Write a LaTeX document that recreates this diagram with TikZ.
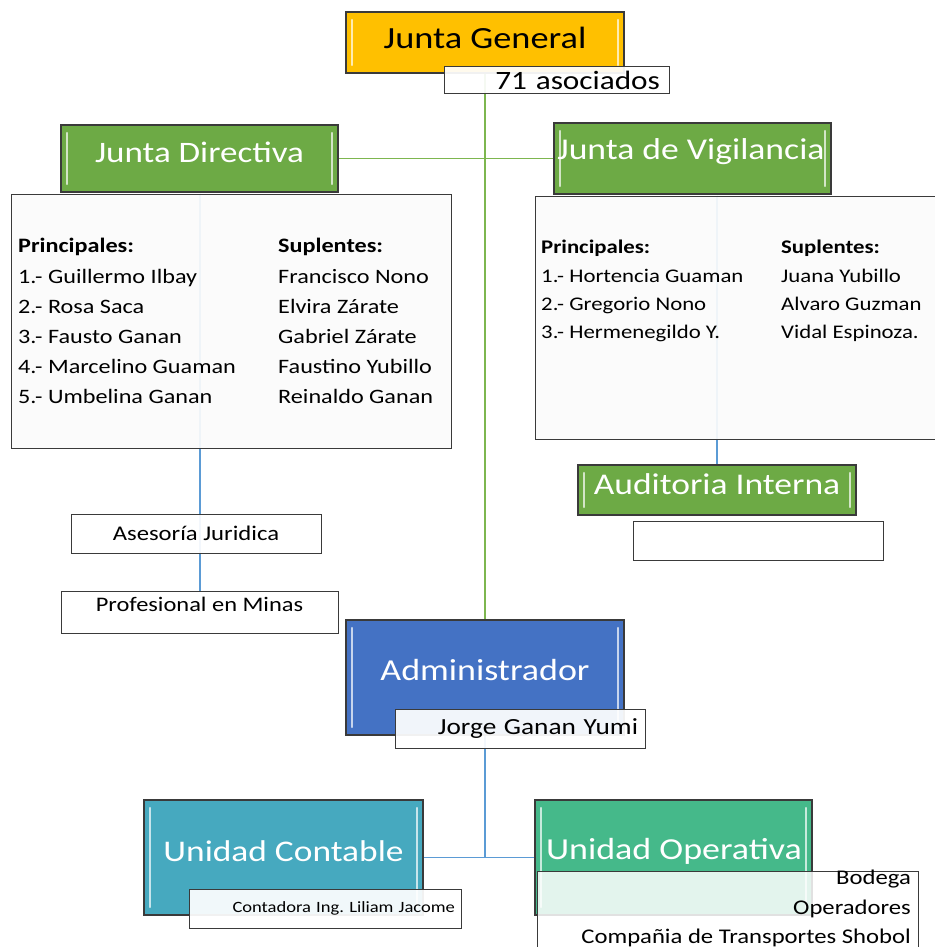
\documentclass[tikz,border=0pt]{standalone}
\usepackage{fontspec}
\setmainfont{Carlito}[FakeStretch=1.18]
\usetikzlibrary{backgrounds}

\definecolor{jgorange}{HTML}{FFC000}
\definecolor{vgreen}{HTML}{6DAA45}
\definecolor{admblue}{HTML}{4472C4}
\definecolor{ucteal}{HTML}{46A9BF}
\definecolor{uogreen}{HTML}{45B98A}
\definecolor{linegreen}{HTML}{7DB64F}
\definecolor{lineblue}{HTML}{5B9BD5}
\definecolor{edgegray}{HTML}{3A3A3A}

\newcommand{\fsz}[1]{\fontsize{#1}{#1}\selectfont}

\tikzset{
  % coloured unit box with light bevel strips on both sides
  unitbox/.style={draw=edgegray, line width=1.2pt, fill=#1, inner sep=0pt,
    path picture={
      \foreach \s/\a/\b in {1/north west/south west,-1/north east/south east}{
        \draw[#1!30!white, line width=2.4pt, line cap=round]
          ([xshift=\s*6pt,yshift=-8pt]path picture bounding box.\a) --
          ([xshift=\s*6pt,yshift=8pt]path picture bounding box.\b);}}},
  unittext/.style={inner sep=0pt, text=white, font=\fsz{#1}},
  infobox/.style={draw=edgegray, line width=1pt, fill=white, fill opacity=0.93,
    text opacity=1, inner sep=0pt},
  listbox/.style={draw=edgegray, line width=1pt, fill=white!98.5!black,
    fill opacity=0.93, inner sep=0pt},
  itemtext/.style={inner sep=0pt, anchor=base west, font=\fsz{#1}},
  itemhead/.style={inner sep=0pt, anchor=base west, font=\bfseries\fsz{#1}},
  greenlink/.style={draw=linegreen, line width=1.5pt},
  bluelink/.style={draw=lineblue, line width=1.7pt},
}

\begin{document}
\frenchspacing
\begin{tikzpicture}[x=1pt, y=-1pt]
\useasboundingbox (0,0) rectangle (934,947);

% ---------- top: general assembly ----------
\node[unitbox=jgorange, minimum width=278pt, minimum height=61pt] (jg) at (485,42.5) {};
\node[unittext=30.8, text=black] (jgT) at (485,38) {Junta General};
\node[infobox, minimum width=225pt, minimum height=27pt, text width=207pt,
      inner xsep=9pt, align=right, font=\fsz{26.5}] (as71) at (556.5,80.5) {71 asociados};

% ---------- boards ----------
\node[unitbox=vgreen, minimum width=277pt, minimum height=67pt] (jd) at (199.5,158.5) {};
\node[unittext=29.7] (jdT) at (199.5,152) {Junta Directiva};
\node[unitbox=vgreen, minimum width=277pt, minimum height=71pt] (jv) at (692.5,158.5) {};
\node[unittext=30.2] (jvT) at (691,152) {Junta de Vigilancia};

\node[listbox, minimum width=440pt, minimum height=254pt] (jdm) at (231,321) {};
\node[listbox, minimum width=401pt, minimum height=243pt] (jvm) at (735.5,317.5) {};

% members of the board of directors
\node[itemhead=20.5] (jdp) at (18,252) {Principales:};
\node[itemhead=20.5] (jds) at (278,252) {Suplentes:};
\foreach \n/\p/\s [count=\i] in {
    1/Guillermo Ilbay/Francisco Nono,
    2/Rosa Saca/Elvira Zárate,
    3/Fausto Ganan/Gabriel Zárate,
    4/Marcelino Guaman/Faustino Yubillo,
    5/Umbelina Ganan/Reinaldo Ganan}{
  \node[itemtext=20.5] (jdp\i) at (18,253+30*\i) {\n.- \p};
  \node[itemtext=20.5] (jds\i) at (278,253+30*\i) {\s};
}

% members of the supervisory board
\node[itemhead=19.3] (jvp) at (541,253) {Principales:};
\node[itemhead=19.3] (jvs) at (781,253) {Suplentes:};
\foreach \n/\p/\s [count=\i] in {
    1/Hortencia Guaman/Juana Yubillo,
    2/Gregorio Nono/Alvaro Guzman,
    3/Hermenegildo Y./Vidal Espinoza.}{
  \node[itemtext=19.3] (jvp\i) at (541,254+28*\i) {\n.- \p};
  \node[itemtext=19.3] (jvs\i) at (781,254+28*\i) {\s};
}

% ---------- internal audit ----------
\node[unitbox=vgreen, minimum width=278pt, minimum height=50pt] (ai) at (717,490) {};
\node[unittext=30.1] (aiT) at (717,484) {Auditoria Interna};
\node[infobox, minimum width=250pt, minimum height=39pt] (aie) at (758,540.5) {};

% ---------- advisory ----------
\node[infobox, minimum width=250pt, minimum height=39pt,
      font=\fsz{20.9}] (aj) at (196,533.5) {Asesoría Juridica};
\node[infobox, minimum width=277pt, minimum height=42pt] (pm) at (199.5,612) {};
\node[inner sep=0pt, font=\fsz{20.7}] (pmT) at (199.5,604) {Profesional en Minas};

% ---------- administration ----------
\node[unitbox=admblue, minimum width=278pt, minimum height=115pt] (adm) at (485,677.5) {};
\node[unittext=30.5] (admT) at (485,670) {Administrador};
\node[infobox, minimum width=250pt, minimum height=39pt, text width=236pt,
      inner xsep=7pt, align=right, font=\fsz{23.1}] (jgy) at (520,728.5) {Jorge Ganan Yumi};

% ---------- operating units ----------
\node[unitbox=ucteal, minimum width=279pt, minimum height=115pt] (uc) at (283.5,857.5) {};
\node[unittext=30] (ucT) at (283.5,851) {Unidad Contable};
\node[infobox, minimum width=272pt, minimum height=39pt, text width=260pt,
      inner xsep=6pt, align=right, font=\fsz{15.7}] (cont) at (325,908.5) {Contadora Ing. Liliam Jacome};

\node[unitbox=uogreen, minimum width=277pt, minimum height=115pt] (uo) at (673.5,857.5) {};
\node[unittext=30.5] (uoT) at (674,851) {Unidad Operativa};
\node[infobox, fill opacity=0.85, minimum width=381pt, minimum height=81pt] (ops) at (727.5,911.5) {};
\foreach \t/\y [count=\i] in {Bodega/879, Operadores/909, Compañia de Transportes Shobol/938}{
  \node[inner sep=0pt, anchor=east, font=\fsz{20.9}] (ops\i) at (911,\y) {\t};
}

% ---------- connectors ----------
\begin{scope}[on background layer]
  \draw[greenlink] (jg.south) -- (adm.north);
  \draw[greenlink] (jd.east) -- (jv.west);
  \draw[bluelink] ([xshift=0.5pt]pm.north |- jdm.north) -- ([xshift=0.5pt]pm.north);
  \draw[bluelink] (ai.north |- jvm.north) -- (ai.north);
  \draw[bluelink] (adm.south) -- (adm.south |- uc.east);
  \draw[bluelink] (uc.east) -- (uo.west);
\end{scope}
\end{tikzpicture}
\end{document}
